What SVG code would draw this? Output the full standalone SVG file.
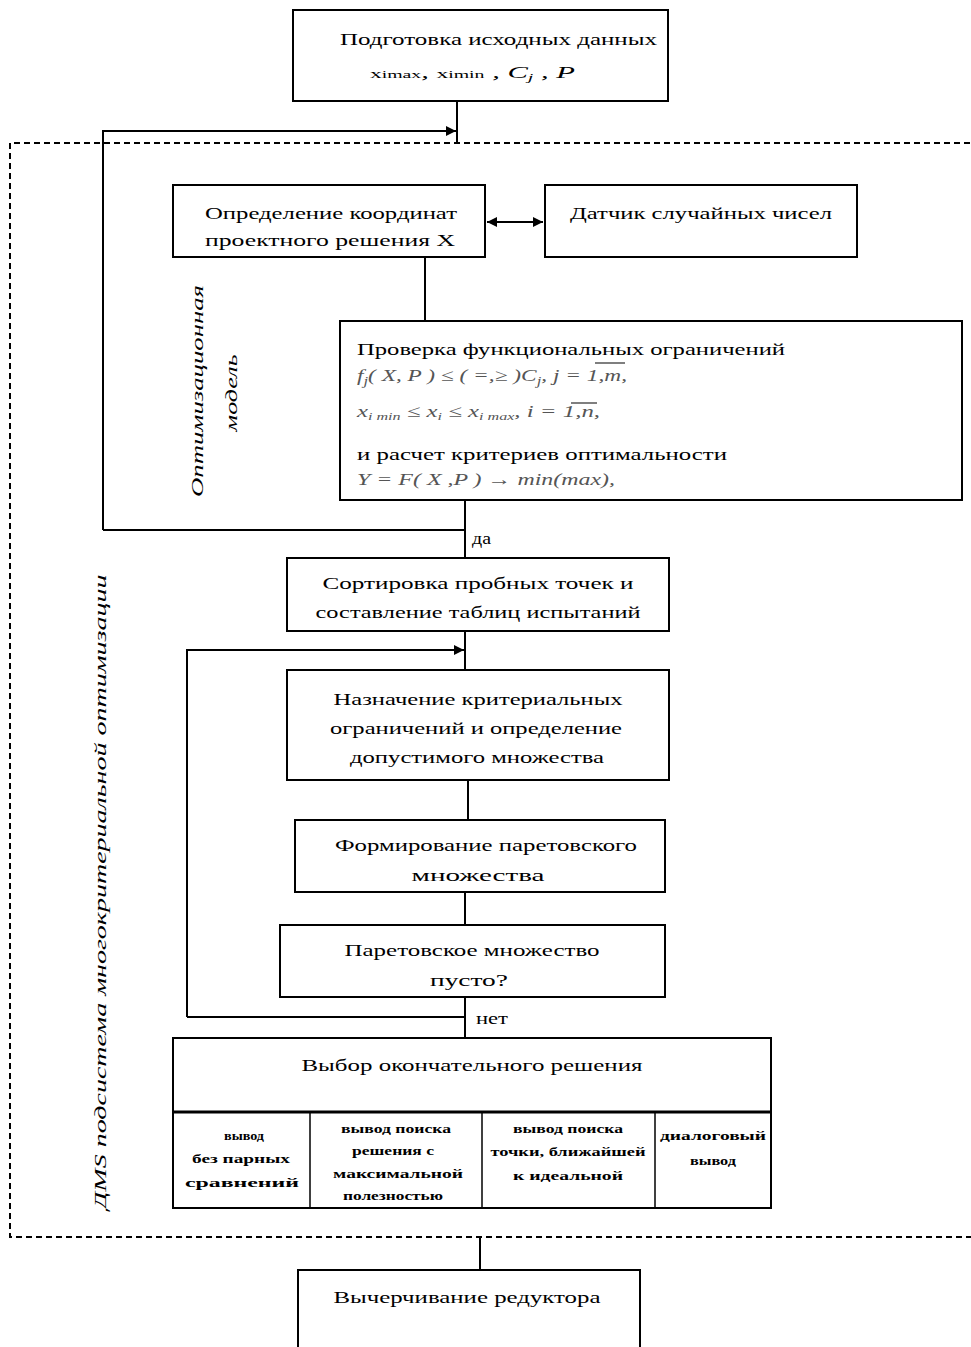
<svg xmlns="http://www.w3.org/2000/svg" width="971" height="1347" viewBox="0 0 971 1347">
<style>
.box{fill:#fff;stroke:#000;stroke-width:2}
.ln{fill:none;stroke:#000;stroke-width:2}
.dash{fill:none;stroke:#000;stroke-width:2;stroke-dasharray:6 4}
.t{font-family:"Liberation Serif","Times New Roman",serif;font-size:17px;fill:#000}
.c{text-anchor:middle}
.f{font-family:"Liberation Serif","Times New Roman",serif;font-style:italic;font-size:17px;fill:#555}
.s{font-family:"Liberation Serif","Times New Roman",serif;font-size:12px;font-weight:bold;fill:#000;text-anchor:middle}
.r{font-family:"Liberation Serif","Times New Roman",serif;font-style:italic;font-size:17px;fill:#000;text-anchor:middle}
</style>
<defs>
<marker id="ah" viewBox="0 0 10 10" refX="10" refY="5" markerWidth="10" markerHeight="10" markerUnits="userSpaceOnUse" orient="auto-start-reverse">
<path d="M0,0 L10,5 L0,10 z" fill="#000"/>
</marker>
</defs>
<rect x="0" y="0" width="971" height="1347" fill="#fff"/>

<g id="boundary">
<path class="dash" d="M980,143 H10 V1237 H980"/>
</g>

<g id="connectors">
<path class="ln" d="M457,101 V143"/>
<path class="ln" d="M103,530 V131 H456" marker-end="url(#ah)"/>
<path class="ln" d="M487,222 H543" marker-start="url(#ah)" marker-end="url(#ah)"/>
<path class="ln" d="M425,257 V321"/>
<path class="ln" d="M465,500 V558"/>
<path class="ln" d="M103,530 H465"/>
<path class="ln" d="M465,631 V670"/>
<path class="ln" d="M187,1017 V650 H464" marker-end="url(#ah)"/>
<path class="ln" d="M468,780 V820"/>
<path class="ln" d="M465,892 V925"/>
<path class="ln" d="M465,997 V1038"/>
<path class="ln" d="M187,1017 H465"/>
<path class="ln" d="M480,1237 V1270"/>
<text class="t" x="472" y="544" textLength="19" lengthAdjust="spacingAndGlyphs">да</text>
<text class="t" x="476" y="1024" textLength="32" lengthAdjust="spacingAndGlyphs">нет</text>
</g>

<g id="node-prep">
<rect class="box" x="293" y="10" width="375" height="91"/>
<text class="t" x="340" y="45" textLength="317" lengthAdjust="spacingAndGlyphs">Подготовка исходных данных</text>
<text class="t" x="370" y="78" font-size="18" font-style="italic" textLength="205" lengthAdjust="spacingAndGlyphs"><tspan font-size="13" font-style="normal">x</tspan><tspan font-size="11" font-style="normal">imax</tspan><tspan>, </tspan><tspan font-size="13" font-style="normal">x</tspan><tspan font-size="11" font-style="normal">imin</tspan><tspan> , C</tspan><tspan font-size="11" dy="3">j</tspan><tspan dy="-3"> , P</tspan></text>
</g>

<g id="node-coords">
<rect class="box" x="173" y="185" width="312" height="72"/>
<text class="t" x="205" y="219" textLength="252" lengthAdjust="spacingAndGlyphs">Определение координат</text>
<text class="t" x="205" y="246" textLength="250" lengthAdjust="spacingAndGlyphs">проектного решения X</text>
</g>

<g id="node-random">
<rect class="box" x="545" y="185" width="312" height="72"/>
<text class="t" x="570" y="219" textLength="262" lengthAdjust="spacingAndGlyphs">Датчик случайных чисел</text>
</g>

<g id="node-check">
<rect class="box" x="340" y="321" width="622" height="179"/>
<text class="t" x="357" y="355" textLength="428" lengthAdjust="spacingAndGlyphs">Проверка функциональных ограничений</text>
<text class="f" x="357" y="381" font-size="19" textLength="270" lengthAdjust="spacingAndGlyphs">f<tspan font-size="12" dy="4">j</tspan><tspan dy="-4">( X, P ) ≤ ( =,≥ )C</tspan><tspan font-size="12" dy="4">j</tspan><tspan dy="-4">,   j = 1,m,</tspan></text>
<line x1="595" y1="363" x2="625" y2="363" stroke="#555" stroke-width="1.5"/>
<text class="f" x="357" y="417" font-size="15" textLength="243" lengthAdjust="spacingAndGlyphs">x<tspan font-size="11" dy="3">i min</tspan><tspan dy="-3"> ≤ x</tspan><tspan font-size="11" dy="3">i</tspan><tspan dy="-3"> ≤ x</tspan><tspan font-size="11" dy="3">i max</tspan><tspan dy="-3">,  i = 1,n,</tspan></text>
<line x1="571" y1="403" x2="597" y2="403" stroke="#555" stroke-width="1.5"/>
<text class="t" x="357" y="460" textLength="370" lengthAdjust="spacingAndGlyphs">и расчет критериев оптимальности</text>
<text class="f" x="357" y="485" font-size="19" textLength="258" lengthAdjust="spacingAndGlyphs">Y = F( X ,P ) → min(max),</text>
</g>

<g id="label-model">
<text class="r" transform="translate(203,391) rotate(-90)" textLength="212" lengthAdjust="spacingAndGlyphs">Оптимизационная</text>
<text class="r" transform="translate(237,393) rotate(-90)" textLength="77" lengthAdjust="spacingAndGlyphs">модель</text>
</g>

<g id="label-dms">
<text class="r" transform="translate(106,892) rotate(-90)" textLength="635" lengthAdjust="spacingAndGlyphs">ДМS  подсистема многокритериальной оптимизации</text>
</g>

<g id="node-sort">
<rect class="box" x="287" y="558" width="382" height="73"/>
<text class="t c" x="478" y="589" textLength="311" lengthAdjust="spacingAndGlyphs">Сортировка пробных точек и</text>
<text class="t c" x="478" y="618" textLength="325" lengthAdjust="spacingAndGlyphs">составление таблиц испытаний</text>
</g>

<g id="node-assign">
<rect class="box" x="287" y="670" width="382" height="110"/>
<text class="t c" x="478" y="705" textLength="289" lengthAdjust="spacingAndGlyphs">Назначение критериальных</text>
<text class="t c" x="476" y="734" textLength="292" lengthAdjust="spacingAndGlyphs">ограничений и определение</text>
<text class="t c" x="477" y="763" textLength="254" lengthAdjust="spacingAndGlyphs">допустимого множества</text>
</g>

<g id="node-pareto">
<rect class="box" x="295" y="820" width="370" height="72"/>
<text class="t c" x="486" y="851" textLength="302" lengthAdjust="spacingAndGlyphs">Формирование паретовского</text>
<text class="t c" x="478" y="881" textLength="133" lengthAdjust="spacingAndGlyphs">множества</text>
</g>

<g id="node-empty">
<rect class="box" x="280" y="925" width="385" height="72"/>
<text class="t c" x="472" y="956" textLength="255" lengthAdjust="spacingAndGlyphs">Паретовское множество</text>
<text class="t c" x="469" y="986" textLength="78" lengthAdjust="spacingAndGlyphs">пусто?</text>
</g>

<g id="node-choice">
<rect class="box" x="173" y="1038" width="598" height="170"/>
<line x1="173" y1="1112" x2="771" y2="1112" stroke="#000" stroke-width="3"/>
<line x1="310" y1="1112" x2="310" y2="1208" stroke="#000" stroke-width="1.5"/>
<line x1="482" y1="1112" x2="482" y2="1208" stroke="#000" stroke-width="1.5"/>
<line x1="655" y1="1112" x2="655" y2="1208" stroke="#000" stroke-width="1.5"/>
<text class="t c" x="472" y="1071" textLength="341" lengthAdjust="spacingAndGlyphs">Выбор окончательного решения</text>
<text class="s" x="244" y="1140" textLength="40" lengthAdjust="spacingAndGlyphs">вывод</text>
<text class="s" x="241" y="1163" textLength="98" lengthAdjust="spacingAndGlyphs">без парных</text>
<text class="s" x="242" y="1187" textLength="114" lengthAdjust="spacingAndGlyphs">сравнений</text>
<text class="s" x="396" y="1133" textLength="110" lengthAdjust="spacingAndGlyphs">вывод поиска</text>
<text class="s" x="393" y="1155" textLength="82" lengthAdjust="spacingAndGlyphs">решения с</text>
<text class="s" x="398" y="1178" textLength="130" lengthAdjust="spacingAndGlyphs">максимальной</text>
<text class="s" x="393" y="1200" textLength="100" lengthAdjust="spacingAndGlyphs">полезностью</text>
<text class="s" x="568" y="1133" textLength="110" lengthAdjust="spacingAndGlyphs">вывод поиска</text>
<text class="s" x="568" y="1156" textLength="155" lengthAdjust="spacingAndGlyphs">точки, ближайшей</text>
<text class="s" x="568" y="1180" textLength="110" lengthAdjust="spacingAndGlyphs">к идеальной</text>
<text class="s" x="713" y="1140" textLength="106" lengthAdjust="spacingAndGlyphs">диалоговый</text>
<text class="s" x="713" y="1165" textLength="46" lengthAdjust="spacingAndGlyphs">вывод</text>
</g>

<g id="node-draw">
<rect class="box" x="298" y="1270" width="342" height="90"/>
<text class="t c" x="467" y="1303" textLength="267" lengthAdjust="spacingAndGlyphs">Вычерчивание редуктора</text>
</g>
</svg>
